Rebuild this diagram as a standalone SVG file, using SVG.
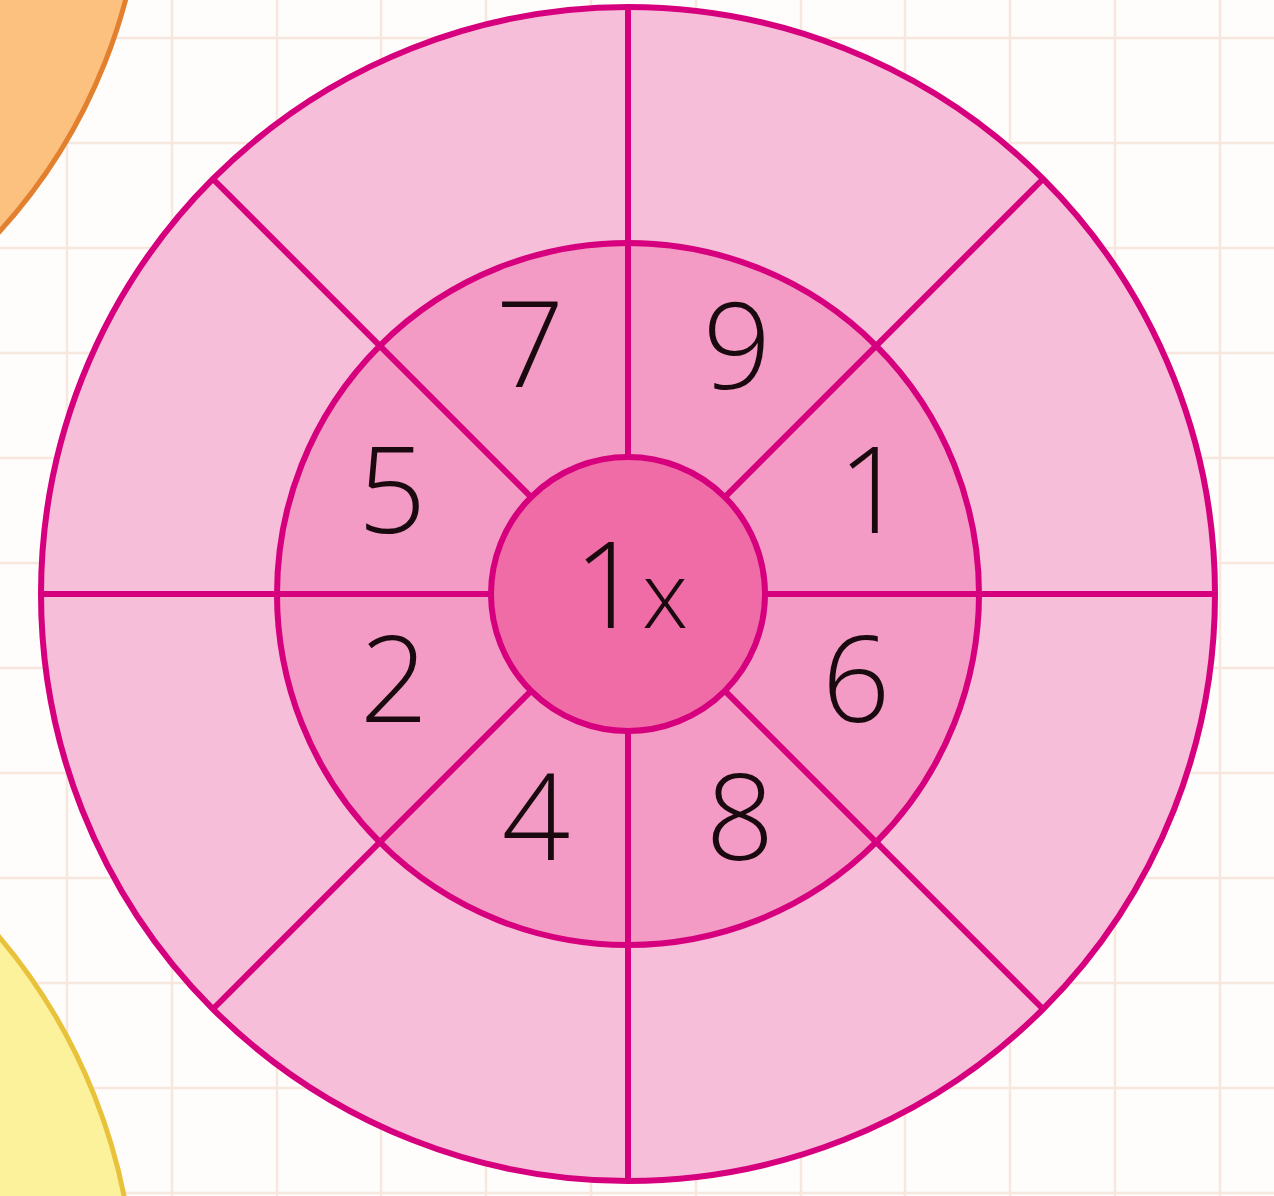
<svg xmlns="http://www.w3.org/2000/svg" width="1274" height="1196" viewBox="0 0 1274 1196">
<defs>
<style>
.grid line{stroke:#f8e7de;stroke-width:2.5}
.ring{stroke:#d6007e;stroke-width:6}
.div line{stroke:#d6007e;stroke-width:6}
.num{font-family:"Open Sans","Liberation Sans",sans-serif;font-weight:300;font-size:120px;fill:#1a0a10;text-anchor:middle}
</style>
</defs>
<rect width="1274" height="1196" fill="#fffdfb"/>
<g class="grid" id="grid">
<line x1="67" y1="0" x2="67" y2="1196"/><line x1="172" y1="0" x2="172" y2="1196"/><line x1="277" y1="0" x2="277" y2="1196"/><line x1="381" y1="0" x2="381" y2="1196"/><line x1="486" y1="0" x2="486" y2="1196"/><line x1="591" y1="0" x2="591" y2="1196"/><line x1="696" y1="0" x2="696" y2="1196"/><line x1="801" y1="0" x2="801" y2="1196"/><line x1="905" y1="0" x2="905" y2="1196"/><line x1="1010" y1="0" x2="1010" y2="1196"/><line x1="1115" y1="0" x2="1115" y2="1196"/><line x1="1220" y1="0" x2="1220" y2="1196"/>
<line x1="0" y1="38" x2="1274" y2="38"/><line x1="0" y1="143" x2="1274" y2="143"/><line x1="0" y1="248" x2="1274" y2="248"/><line x1="0" y1="353" x2="1274" y2="353"/><line x1="0" y1="458" x2="1274" y2="458"/><line x1="0" y1="563" x2="1274" y2="563"/><line x1="0" y1="668" x2="1274" y2="668"/><line x1="0" y1="773" x2="1274" y2="773"/><line x1="0" y1="878" x2="1274" y2="878"/><line x1="0" y1="983" x2="1274" y2="983"/><line x1="0" y1="1088" x2="1274" y2="1088"/><line x1="0" y1="1193" x2="1274" y2="1193"/>
</g>
<g id="orange-circle"><circle cx="-411" cy="-142" r="555" fill="#fcc07f" stroke="#e2802f" stroke-width="5"/></g>
<g id="yellow-circle"><circle cx="-440" cy="1308" r="575" fill="#fdf29c" stroke="#e9c23c" stroke-width="5"/></g>
<g id="outer-ring"><circle class="ring" cx="628" cy="594" r="587" fill="#f6bed8"/></g>
<g id="middle-ring"><circle class="ring" cx="628" cy="594" r="351" fill="#f49bc5"/></g>
<g class="div" id="connectors">
<line x1="628" y1="7" x2="628" y2="1181"/>
<line x1="41" y1="594" x2="1215" y2="594"/>
<line x1="213" y1="179" x2="1043" y2="1009"/>
<line x1="1043" y1="179" x2="213" y2="1009"/>
</g>
<g id="center"><circle class="ring" cx="628" cy="594" r="137" fill="#ef6ca7"/>
<text class="num" x="631" y="628">1<tspan font-size="92">x</tspan></text></g>
<g id="labels">
<text class="num" x="530" y="387">7</text>
<text class="num" x="737" y="389">9</text>
<text class="num" x="392" y="533">5</text>
<text class="num" x="872" y="533">1</text>
<text class="num" x="394" y="722">2</text>
<text class="num" x="856" y="722">6</text>
<text class="num" x="536" y="860">4</text>
<text class="num" x="740" y="860">8</text>
</g>
</svg>
